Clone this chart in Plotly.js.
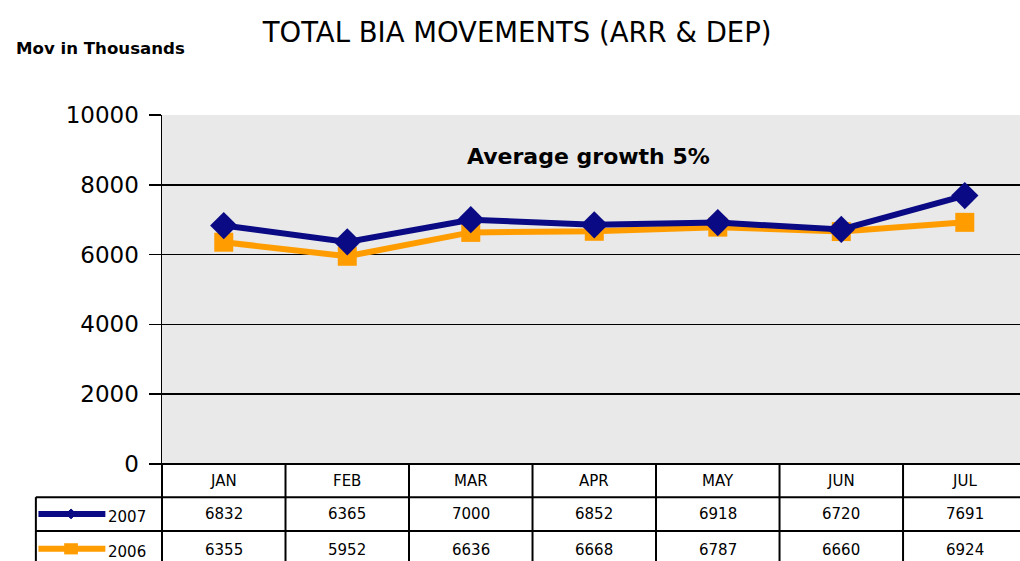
<!DOCTYPE html>
<html>
<head>
<meta charset="utf-8">
<script src="https://cdn.plot.ly/plotly-3.0.1.min.js"></script>
<style>html,body{margin:0;padding:0;background:#fff;}#chart{width:1020px;height:561px;}</style>
</head>
<body>
<div id="chart"></div>
<script>
const months = ['JAN','FEB','MAR','APR','MAY','JUN','JUL'];
const seriesNames = ['2007','2006'];
const values2007 = [6832, 6365, 7000, 6852, 6918, 6720, 7691];
const values2006 = [6355, 5952, 6636, 6668, 6787, 6660, 6924];
const yTicks = [0, 2000, 4000, 6000, 8000, 10000];

const FONT = '"DejaVu Sans", "Liberation Sans", Arial, sans-serif';
const NAVY = '#0a0a85';
const ORANGE = '#ff9d00';

const xRange = [-0.5, 6.447];
const idx = months.map((m, i) => i);
// convert a category-space x value to paper coordinates
const toPaper = v => (v - xRange[0]) / (xRange[1] - xRange[0]);

const traces = [
  {x: idx, y: values2006, name: seriesNames[1], mode: 'lines+markers', type: 'scatter',
   line: {color: ORANGE, width: 6}, marker: {symbol: 'square', size: 19, color: ORANGE}, cliponaxis: false},
  {x: idx, y: values2007, name: seriesNames[0], mode: 'lines+markers', type: 'scatter',
   line: {color: NAVY, width: 6}, marker: {symbol: 'diamond', size: 21, color: NAVY}, cliponaxis: false}
];

// table geometry (paper units, below plot)
const rowTop = 0, row1 = -0.095, row2 = -0.192, rowBot = -0.32;
const tableLeft = -0.147;
const shapes = [];
const lineStyle = {color: '#000', width: 2};
for (let k = 0; k <= months.length; k++) {
  const xp = toPaper(k - 0.5);
  shapes.push({type: 'line', xref: 'paper', yref: 'paper', x0: xp, x1: xp, y0: rowTop, y1: rowBot, line: lineStyle});
}
shapes.push({type: 'line', xref: 'paper', yref: 'paper', x0: tableLeft, x1: tableLeft, y0: row1, y1: rowBot, line: lineStyle});
shapes.push({type: 'line', xref: 'paper', yref: 'paper', x0: 0, x1: 1.05, y0: rowTop, y1: rowTop, line: lineStyle});
shapes.push({type: 'line', xref: 'paper', yref: 'paper', x0: tableLeft, x1: 1.05, y0: row1, y1: row1, line: lineStyle});
shapes.push({type: 'line', xref: 'paper', yref: 'paper', x0: tableLeft, x1: 1.05, y0: row2, y1: row2, line: lineStyle});

// legend keys inside table
const keyX0 = -0.144, keyX1 = -0.066, keyMid = -0.106;
const keyY1 = -0.143, keyY2 = -0.243;
shapes.push({type: 'line', xref: 'paper', yref: 'paper', x0: keyX0, x1: keyX1, y0: keyY1, y1: keyY1, line: {color: NAVY, width: 6}});
shapes.push({type: 'path', xref: 'paper', yref: 'paper',
  path: `M ${keyMid - 0.006} ${keyY1} L ${keyMid} ${keyY1 + 0.014} L ${keyMid + 0.006} ${keyY1} L ${keyMid} ${keyY1 - 0.014} Z`,
  fillcolor: NAVY, line: {color: NAVY, width: 1}});
shapes.push({type: 'line', xref: 'paper', yref: 'paper', x0: keyX0, x1: keyX1, y0: keyY2, y1: keyY2, line: {color: ORANGE, width: 6}});
shapes.push({type: 'rect', xref: 'paper', yref: 'paper', x0: keyMid - 0.008, x1: keyMid + 0.008, y0: keyY2 - 0.016, y1: keyY2 + 0.016,
  fillcolor: ORANGE, line: {color: ORANGE, width: 0}});

const annotations = [];
const tableFont = {family: FONT, size: 15, color: '#000'};
months.forEach((m, i) => {
  annotations.push({xref: 'x', yref: 'paper', x: i, y: (rowTop + row1) / 2, text: m, showarrow: false, font: tableFont, yanchor: 'middle'});
  annotations.push({xref: 'x', yref: 'paper', x: i, y: keyY1, text: String(values2007[i]), showarrow: false, font: tableFont, yanchor: 'middle'});
  annotations.push({xref: 'x', yref: 'paper', x: i, y: keyY2 - 0.004, text: String(values2006[i]), showarrow: false, font: tableFont, yanchor: 'middle'});
});
annotations.push({xref: 'paper', yref: 'paper', x: -0.016, y: keyY1 - 0.01, xanchor: 'right', text: seriesNames[0], showarrow: false, font: tableFont, yanchor: 'middle'});
annotations.push({xref: 'paper', yref: 'paper', x: -0.016, y: keyY2 - 0.01, xanchor: 'right', text: seriesNames[1], showarrow: false, font: tableFont, yanchor: 'middle'});
annotations.push({xref: 'x', yref: 'paper', x: 2.95, y: 0.882, xanchor: 'center', yanchor: 'middle',
  text: '<b>Average growth 5%</b>', showarrow: false, font: {family: FONT, size: 22, color: '#000'}});
annotations.push({xref: 'paper', yref: 'paper', x: -0.172, y: 1.19, xanchor: 'left', yanchor: 'middle',
  text: '<b>Mov in Thousands</b>', showarrow: false, font: {family: FONT, size: 16.6, color: '#000'}});

const layout = {
  width: 1020, height: 561,
  margin: {l: 162, r: 0, t: 115, b: 97, pad: 0},
  paper_bgcolor: '#ffffff',
  plot_bgcolor: '#e9e9e9',
  showlegend: false,
  title: {text: 'TOTAL BIA MOVEMENTS (ARR &amp; DEP)', x: 0.507, xanchor: 'center', y: 0.943, yanchor: 'middle',
          font: {family: FONT, size: 27.5, color: '#000'}},
  xaxis: {range: xRange, showticklabels: false, showgrid: false, zeroline: false, showline: false, ticks: '', fixedrange: true},
  yaxis: {range: [0, 10000], tickvals: yTicks, ticktext: yTicks.map(String), showgrid: true, gridcolor: '#000', gridwidth: 1.5,
          zeroline: false, showline: true, linecolor: '#000', linewidth: 1.5, ticks: 'outside', ticklen: 12, tickcolor: '#000', tickwidth: 1.5,
          ticklabelstandoff: 5,
          tickfont: {family: FONT, size: 23, color: '#000'}, fixedrange: true},
  shapes: shapes,
  annotations: annotations
};

Plotly.newPlot('chart', traces, layout, {displayModeBar: false, staticPlot: true});
</script>
</body>
</html>
